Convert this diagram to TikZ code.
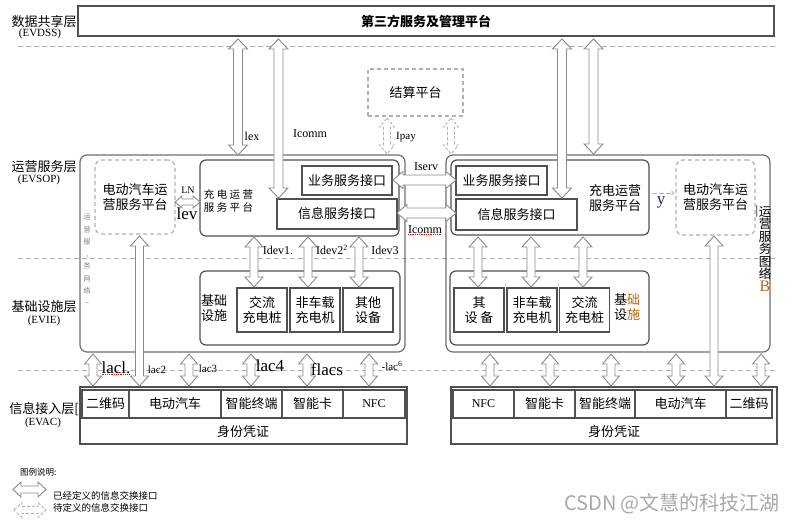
\documentclass[tikz,border=0pt]{standalone}
\usepackage{fontspec}
\setmainfont{Liberation Serif}
\newfontfamily\cjk{Noto Sans CJK SC}
\usetikzlibrary{calc}
\definecolor{arrc}{HTML}{8A8A8A}
\definecolor{bdc}{HTML}{505050}
\definecolor{obc}{HTML}{6E6E6E}
\definecolor{dlc}{HTML}{B0B0B0}
\definecolor{wmc}{HTML}{A8A8A8}
\definecolor{ochre}{HTML}{B8660B}
\definecolor{navyc}{HTML}{1F2F6F}
\newcommand\myfs[2]{\fontsize{#1}{#2}\selectfont}
\tikzset{
  arrhw/.store in=\myahw, arrsw/.store in=\myasw, arrlen/.store in=\myalen,
  arrhw=9.5pt, arrsw=4.5pt, arrlen=10pt,
  dbl/.style={draw=arrc, fill=white, line width=0.9pt, line join=miter, to path={
    (\tikztostart)
    -- ($(\tikztostart)!\myalen!(\tikztotarget)!\myahw!90:(\tikztotarget)$)
    -- ($(\tikztostart)!\myalen!(\tikztotarget)!\myasw!90:(\tikztotarget)$)
    -- ($(\tikztotarget)!\myalen!(\tikztostart)!\myasw!-90:(\tikztostart)$)
    -- ($(\tikztotarget)!\myalen!(\tikztostart)!\myahw!-90:(\tikztostart)$)
    -- (\tikztotarget)
    -- ($(\tikztotarget)!\myalen!(\tikztostart)!\myahw!90:(\tikztostart)$)
    -- ($(\tikztotarget)!\myalen!(\tikztostart)!\myasw!90:(\tikztostart)$)
    -- ($(\tikztostart)!\myalen!(\tikztotarget)!\myasw!-90:(\tikztotarget)$)
    -- ($(\tikztostart)!\myalen!(\tikztotarget)!\myahw!-90:(\tikztotarget)$)
    -- cycle}},
  dbld/.style={dbl, draw=dlc, dash pattern=on 3pt off 2pt},
  box/.style={draw=bdc, line width=1.2pt, inner sep=0pt, outer sep=0pt, align=center},
  obox/.style={box, draw=obc, rounded corners=7pt},
  rbox/.style={box, rounded corners=6pt},
  dbox/.style={box, draw=dlc, dash pattern=on 4pt off 3pt},
  cell/.style={box, minimum height=28},
  ibox/.style={box, minimum width=50, minimum height=44},
  txt/.style={inner sep=0pt, outer sep=0pt, align=center},
  ser/.style={txt, font=\rmfamily\myfs{12}{13}},
  sersm/.style={txt, font=\rmfamily\myfs{11}{12}},
  serbig/.style={txt, font=\rmfamily\myfs{17}{18}},
  layerline/.style={draw=dlc, line width=1pt, dash pattern=on 5pt off 3pt},
  reddot/.style={draw=red, line width=0.8pt, densely dotted},
}
\begin{document}
\begin{tikzpicture}[x=1pt,y=-1pt, every node/.style={font=\cjk\myfs{13}{15}}]
\useasboundingbox (0,0) rectangle (794,522);
% layer separators
\draw[layerline] (18,46) -- (778,46);
\draw[layerline] (18,258) -- (778,258);
\draw[layerline] (18,370) -- (778,370);

% layer labels
\node[txt] (l1a) at (44,22) {数据共享层};
\node[sersm] (l1b) at (40,34) {(EVDSS)};
\node[txt] (l2a) at (44,167) {运营服务层};
\node[sersm] (l2b) at (39,180) {(EVSOP)};
\node[txt] (l3a) at (44,307) {基础设施层};
\node[sersm] (l3b) at (44,321) {(EVIE)};
\node[txt] (l4a) at (44,409) {信息接入层[};
\node[sersm] (l4b) at (43,423) {(EVAC)};

% top platform
\node[box, line width=1.4pt, minimum width=696, minimum height=30] (top) at (426,21) {\bfseries 第三方服务及管理平台};
\node[dbox, minimum width=95, minimum height=47] (settle) at (415.5,92.5) {结算平台};

% service layer
\node[obox, minimum width=325, minimum height=197] (lout) at (242.5,253.5) {};
\node[obox, minimum width=324, minimum height=197] (rout) at (608,253.5) {};

\node[dbox, rounded corners=7pt, minimum width=80, minimum height=74] (levp) at (135,197) {电动汽车运\\营服务平台};
\node[rbox, minimum width=199, minimum height=76] (lchg) at (299.5,198) {};
\node[box, minimum width=90, minimum height=29] (lbiz) at (347,180.5) {业务服务接口};
\node[box, minimum width=120, minimum height=30] (linfo) at (337,214) {信息服务接口};
\node[txt, font=\cjk\myfs{10.5}{13}] (lchgt) at (228.5,200.5) {充 电 运 营\\服 务 平 台};

\node[rbox, minimum width=198, minimum height=75] (rchg) at (550,197.5) {};
\node[box, minimum width=91, minimum height=29] (rbiz) at (501.5,180.5) {业务服务接口};
\node[box, minimum width=121, minimum height=31] (rinfo) at (516.5,214.5) {信息服务接口};
\node[txt] (rchgt) at (615,198.5) {充电运营\\服务平台};
\node[dbox, rounded corners=7pt, minimum width=79, minimum height=75] (revp) at (715.5,197.5) {电动汽车运\\营服务平台};

% infrastructure
\node[rbox, minimum width=200, minimum height=74] (linf) at (300,308) {};
\node[ibox] (lac) at (262,310) {交流\\充电桩};
\node[ibox] (lnc) at (315,310) {非车载\\充电机};
\node[ibox] (loth) at (368,310) {其他\\设备};
\node[txt] (linft) at (214,308) {基础\\设施};

\node[rbox, minimum width=199, minimum height=74] (rinf) at (549.5,308) {};
\node[ibox] (roth) at (479,310) {其\\设 备};
\node[ibox] (rnc) at (532,310) {非车载\\充电机};
\node[ibox] (rac) at (584.5,310) {交流\\充电桩};
\node[txt] (rinft) at (627,307) {基\textcolor{ochre}{础}\\设\textcolor{ochre}{施}};

% access layer
\node[box, line width=1.7pt, minimum width=327, minimum height=57] (lacc) at (243.5,415.5) {};
\node[cell, minimum width=47] (la1) at (105.5,404) {二维码};
\node[cell, minimum width=92] (la2) at (175,404) {电动汽车};
\node[cell, minimum width=61] (la3) at (251.5,404) {智能终端};
\node[cell, minimum width=61] (la4) at (312.5,404) {智能卡};
\node[cell, minimum width=62, font=\rmfamily\myfs{12}{13}] (la5) at (374,404) {NFC};
\node[txt] (lid) at (243,432) {身份凭证};

\node[box, line width=1.7pt, minimum width=326, minimum height=57] (racc) at (614,415.5) {};
\node[cell, minimum width=61, font=\rmfamily\myfs{12}{13}] (ra1) at (483.5,404) {NFC};
\node[cell, minimum width=61] (ra2) at (544.5,404) {智能卡};
\node[cell, minimum width=60] (ra3) at (605,404) {智能终端};
\node[cell, minimum width=91] (ra4) at (680.5,404) {电动汽车};
\node[cell, minimum width=46] (ra5) at (749,404) {二维码};
\node[txt] (rid) at (614,432) {身份凭证};

% arrows from top platform
\coordinate (lexT) at (238,39);   \coordinate (lexB) at (238,155);
\coordinate (icT) at (278.5,39);  \coordinate (icB) at (278.5,198);
\coordinate (r1T) at (562,39);    \coordinate (r1B) at (562,198);
\coordinate (r2T) at (593.5,39);  \coordinate (r2B) at (593.5,154);
\draw[dbl] (lexT) to (lexB);
\draw[dbl] (icT) to (icB);
\draw[dbl] (r1T) to (r1B);
\draw[dbl] (r2T) to (r2B);

% Ipay dashed arrows
\coordinate (p1T) at (387,118); \coordinate (p1B) at (387,154);
\coordinate (p2T) at (451,118); \coordinate (p2B) at (451,154);
\draw[dbld, arrhw=7.5pt, arrsw=3.5pt, arrlen=9pt] (p1T) to (p1B);
\draw[dbld, arrhw=7.5pt, arrsw=3.5pt, arrlen=9pt] (p2T) to (p2B);

% Iserv / Icomm horizontal
\coordinate (s1L) at (393,180); \coordinate (s1R) at (456,180);
\coordinate (s2L) at (397,213); \coordinate (s2R) at (456,213);
\draw[dbl, arrhw=8.5pt, arrsw=5pt] (s1L) to (s1R);
\draw[dbl, arrhw=8.5pt, arrsw=5pt] (s2L) to (s2R);

% LN arrow
\coordinate (lnL) at (175,202); \coordinate (lnR) at (200,202);
\draw[dbl, arrhw=6pt, arrsw=3pt, arrlen=7pt] (lnL) to (lnR);

% y arrow
\coordinate (yaL) at (652,193); \coordinate (yaR) at (674,193);
\draw[dlc, line width=0.8pt, dash pattern=on 5pt off 2pt, ->] (yaL) -- (yaR);

% Idev arrows
\foreach \x [count=\i] in {254,308,359,478,531,583} {
  \coordinate (idT\i) at (\x,237);
  \coordinate (idB\i) at (\x,287);
  \draw[dbl, arrhw=9pt, arrsw=4pt] (idT\i) to (idB\i);
}

% long EV platform arrows
\coordinate (evLT) at (139.5,236); \coordinate (evLB) at (139.5,386);
\coordinate (evRT) at (714,236);   \coordinate (evRB) at (714,386);
\draw[dbl, arrhw=9pt, arrsw=4pt] (evLT) to (evLB);
\draw[dbl, arrhw=9pt, arrsw=4pt] (evRT) to (evRB);

% access arrows
\foreach \x [count=\i] in {93,189,251,307,369,490,550,611,676,761} {
  \coordinate (acT\i) at (\x,354);
  \coordinate (acB\i) at (\x,386);
  \draw[dbl, arrhw=8.5pt, arrsw=4pt] (acT\i) to (acB\i);
}

% labels
\node[ser] (lexl) at (252,136) {lex};
\node[ser] (icl) at (310,134) {Icomm};
\node[sersm] (ipl) at (406,137) {Ipay};
\node[ser] (isl) at (426,167) {Iserv};
\node[ser] (icl2) at (425,230) {Icomm};
\draw[reddot] (icl2.south west) -- (icl2.south east);
\node[ser] (id1) at (278,250) {Idev1.};
\node[ser] (id2) at (332,250) {Idev2\textsuperscript{2}};
\node[ser] (id3) at (385,250) {Idev3};
\node[txt, font=\rmfamily\myfs{10}{11}] (lnl) at (188,190) {LN};
\node[serbig] (levl) at (187,214) {lev};
\node[serbig, text=navyc] (yl) at (661,202) {y};

\node[serbig] (lc1) at (116,368) {lacl.};
\draw[reddot] (lc1.south west) -- (lc1.south east);
\node[sersm] (lc2) at (157,370) {lac2};
\node[sersm] (lc3) at (208,369) {lac3};
\node[serbig] (lc4) at (270,366) {lac4};
\node[serbig] (lc5) at (327,370) {flacs};
\node[sersm] (lc6) at (392,366) {-lac\textsuperscript{6}};

% vertical texts
\node[txt, font=\cjk\myfs{7}{12.3}, text=gray] (lvt) at (87,260) {运\\营\\服\\,\\务\\网\\络\\\textasciitilde};
\node[txt, font=\cjk\myfs{12.5}{12.5}] (rvt) at (765,249) {运\\营\\服\\务\\图\\络\\{\rmfamily\myfs{16}{12.5}\textcolor{ochre}{B}}};
\node[txt, font=\rmfamily\myfs{13}{13}] (rbar) at (757,211) {|};

% legend
\node[txt, font=\cjk\myfs{8.5}{10}, anchor=west] (lgt) at (20,472) {图例说明:};
\coordinate (lg1L) at (13,489.5); \coordinate (lg1R) at (46,489.5);
\coordinate (lg2L) at (14,510);   \coordinate (lg2R) at (46,510);
\draw[dbl, arrhw=7.5pt, arrsw=3.5pt, arrlen=8pt] (lg1L) to (lg1R);
\draw[dbld, arrhw=7.5pt, arrsw=3.5pt, arrlen=8pt] (lg2L) to (lg2R);
\node[txt, font=\cjk\myfs{9.5}{10}, anchor=west] (lg1t) at (53,496) {已经定义的信息交换接口};
\node[txt, font=\cjk\myfs{9.5}{10}, anchor=west] (lg2t) at (53,508) {待定义的信息交换接口};

% watermark
\node[txt, font=\cjk\myfs{20}{22}, text=wmc] (wm) at (672,504) {CSDN @文慧的科技江湖};
\end{tikzpicture}
\end{document}
